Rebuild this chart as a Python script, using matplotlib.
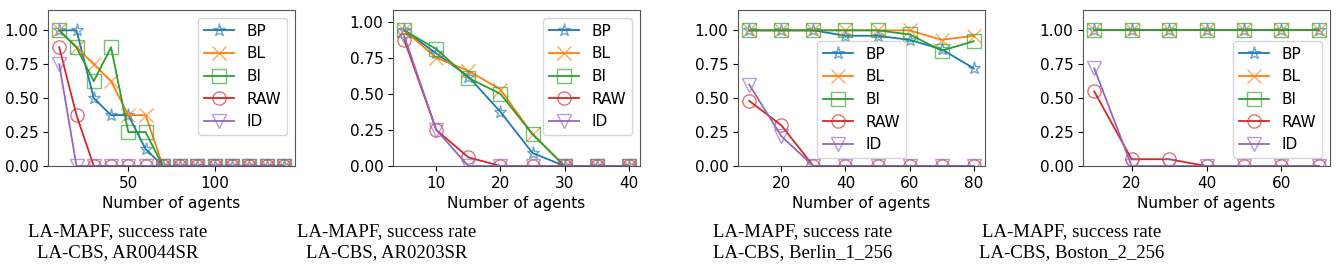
import matplotlib
matplotlib.use("Agg")
import matplotlib.pyplot as plt
from matplotlib.colors import to_rgba

# series order / style
methods = ["BP", "BL", "BI", "RAW", "ID"]
markers = ["*", "x", "s", "o", "v"]
colors = ["tab:blue", "tab:orange", "tab:green", "tab:red", "tab:purple"]

# AR0044SR
x_ar0044 = [10, 20, 30, 40, 50, 60, 70, 80, 90, 100, 110, 120, 130, 140]
ar0044 = {
    "BP": [1.0, 1.0, 0.5, 0.375, 0.375, 0.125, 0, 0, 0, 0, 0, 0, 0, 0],
    "BL": [1.0, 0.875, 0.75, 0.625, 0.375, 0.375, 0, 0, 0, 0, 0, 0, 0, 0],
    "BI": [1.0, 0.875, 0.625, 0.875, 0.25, 0.25, 0, 0, 0, 0, 0, 0, 0, 0],
    "RAW": [0.875, 0.375, 0, 0, 0, 0, 0, 0, 0, 0, 0, 0, 0, 0],
    "ID": [0.75, 0, 0, 0, 0, 0, 0, 0, 0, 0, 0, 0, 0, 0],
}

# AR0203SR
x_ar0203 = [5, 10, 15, 20, 25, 30, 35, 40]
ar0203 = {
    "BP": [0.94, 0.78, 0.62, 0.375, 0.09, 0, 0, 0],
    "BL": [0.94, 0.75, 0.66, 0.53, 0.22, 0, 0, 0],
    "BI": [0.94, 0.81, 0.61, 0.5, 0.22, 0, 0, 0],
    "RAW": [0.875, 0.25, 0.06, 0, 0, 0, 0, 0],
    "ID": [0.9, 0.25, 0, 0, 0, 0, 0, 0],
}

# Berlin_1_256
x_berlin = [10, 20, 30, 40, 50, 60, 70, 80]
berlin = {
    "BP": [1.0, 1.0, 1.0, 0.96, 0.96, 0.93, 0.86, 0.72],
    "BL": [1.0, 1.0, 1.0, 1.0, 1.0, 1.0, 0.93, 0.96],
    "BI": [1.0, 1.0, 1.0, 1.0, 1.0, 0.97, 0.85, 0.92],
    "RAW": [0.48, 0.3, 0, 0, 0, 0, 0, 0],
    "ID": [0.6, 0.22, 0, 0, 0, 0, 0, 0],
}

# Boston_2_256
x_boston = [10, 20, 30, 40, 50, 60, 70]
boston = {
    "BP": [1, 1, 1, 1, 1, 1, 1],
    "BL": [1, 1, 1, 1, 1, 1, 1],
    "BI": [1, 1, 1, 1, 1, 1, 1],
    "RAW": [0.55, 0.05, 0.05, 0, 0, 0, 0],
    "ID": [0.72, 0, 0, 0, 0, 0, 0],
}

maps = ["AR0044SR", "AR0203SR", "Berlin_1_256", "Boston_2_256"]
panels = [(x_ar0044, ar0044, "upper right"),
          (x_ar0203, ar0203, "upper right"),
          (x_berlin, berlin, "lower center"),
          (x_boston, boston, "lower right")]

W, H = 1340, 271
fig = plt.figure(figsize=(W / 100, H / 100), dpi=100)

lefts = [48, 393, 738, 1083]
caption_x = [118, 387, 803, 1072]

for i, (xs, data, loc) in enumerate(panels):
    ax = fig.add_axes([lefts[i] / W, (H - 166) / H, 247 / W, 156 / H])
    for m, mk, c in zip(methods, markers, colors):
        ax.plot(xs, data[m], color=c, lw=1.3, marker=mk, ms=9.5,
                markerfacecolor="none", markeredgecolor=to_rgba(c, 0.65),
                markeredgewidth=1.0, label=m)
    top = max(max(v) for v in data.values())
    ax.set_ylim(0, top * 1.15)
    ax.set_xlabel("Number of agents", fontsize=11)
    ax.tick_params(labelsize=11)
    ax.legend(loc=loc, fontsize=11)
    for s in ax.spines.values():
        s.set_color("#555555")

    fig.text(caption_x[i] / W, (H - 242) / H,
             "LA-MAPF, success rate\nLA-CBS, " + maps[i],
             ha="center", va="center", multialignment="center",
             fontsize=13.5, family="Liberation Serif", linespacing=1.35)

fig.savefig("out.png", dpi=100)
